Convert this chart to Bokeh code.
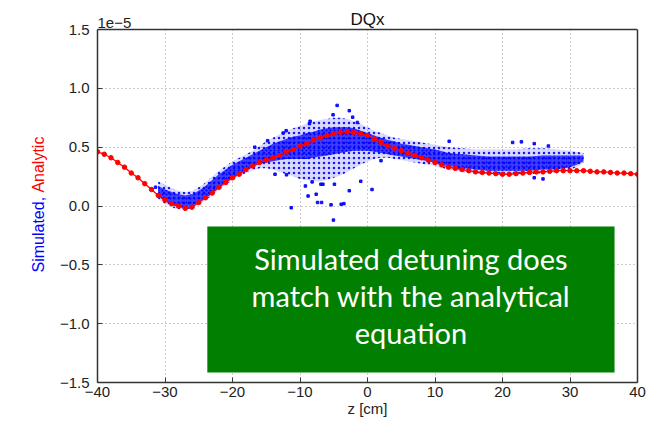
import math
from bokeh.plotting import figure
from bokeh.layouts import row
from bokeh.models import (Label, BoxAnnotation, Span, LinearAxis, CustomJSTickFormatter,
                          FixedTicker, Range1d)
from bokeh.embed import file_html
from bokeh.resources import INLINE

# ---------------- data (values in units of 1e-5) ----------------
ana_z = list(range(-40, 41))
ana_v = [0.46, 0.44, 0.41, 0.37, 0.33, 0.28, 0.24, 0.19, 0.14, 0.09,
         0.05, 0.02, 0.00, -0.02, -0.01, 0.03, 0.07, 0.11, 0.16, 0.20,
         0.24, 0.27, 0.31, 0.34, 0.37, 0.39, 0.41, 0.43, 0.46, 0.48,
         0.51, 0.53, 0.56, 0.58, 0.60, 0.615, 0.625, 0.63, 0.625, 0.615,
         0.60, 0.57, 0.54, 0.51, 0.49, 0.47, 0.45, 0.43, 0.41, 0.39,
         0.37, 0.35, 0.33, 0.32, 0.31, 0.30, 0.29, 0.285, 0.28, 0.275,
         0.27, 0.27, 0.275, 0.28, 0.285, 0.29, 0.29, 0.295, 0.30, 0.30,
         0.30, 0.30, 0.30, 0.295, 0.29, 0.29, 0.285, 0.28, 0.28, 0.275,
         0.27]

sim_z = [-31, -30, -29, -28, -27, -26, -25, -24, -23, -22, -21, -20, -19, -18,
         -17, -16, -15, -14, -13, -12, -11, -10, -9, -8, -7, -6, -5, -4, -3,
         -2, -1, 0, 1, 2, 3, 4, 5, 6, 8, 10, 12, 14, 16, 18, 20, 22, 24, 26,
         28, 30, 31, 32]
sim_core_lo = [0.08, 0.04, 0.01, -0.01, -0.01, 0.00, 0.03, 0.07, 0.11, 0.16, 0.20,
               0.24, 0.27, 0.30, 0.33, 0.36, 0.37, 0.38, 0.39, 0.40, 0.40, 0.40,
               0.40, 0.41, 0.42, 0.43, 0.44, 0.45, 0.46, 0.47, 0.47, 0.47, 0.46,
               0.45, 0.44, 0.43, 0.42, 0.41, 0.39, 0.37, 0.34, 0.32, 0.31, 0.30,
               0.30, 0.30, 0.30, 0.31, 0.31, 0.33, 0.35, 0.38]
sim_core_hi = [0.17, 0.14, 0.12, 0.10, 0.09, 0.10, 0.13, 0.17, 0.22, 0.27, 0.31,
               0.35, 0.38, 0.41, 0.44, 0.47, 0.50, 0.53, 0.55, 0.57, 0.59, 0.60,
               0.62, 0.63, 0.65, 0.66, 0.67, 0.67, 0.67, 0.66, 0.64, 0.62, 0.60,
               0.58, 0.56, 0.55, 0.53, 0.52, 0.50, 0.48, 0.45, 0.44, 0.43, 0.42,
               0.42, 0.42, 0.42, 0.43, 0.43, 0.43, 0.43, 0.43]
sim_env_lo = [0.06, 0.02, -0.01, -0.03, -0.03, -0.02, 0.01, 0.05, 0.09, 0.14, 0.18,
              0.22, 0.25, 0.28, 0.30, 0.32, 0.32, 0.31, 0.29, 0.27, 0.25, 0.23,
              0.22, 0.21, 0.21, 0.22, 0.24, 0.26, 0.29, 0.32, 0.35, 0.38, 0.40,
              0.41, 0.41, 0.40, 0.39, 0.38, 0.36, 0.34, 0.31, 0.29, 0.28, 0.27,
              0.27, 0.27, 0.27, 0.28, 0.29, 0.31, 0.33, 0.37]
sim_env_hi = [0.21, 0.18, 0.15, 0.13, 0.12, 0.13, 0.16, 0.20, 0.25, 0.30, 0.34,
              0.38, 0.41, 0.44, 0.47, 0.51, 0.55, 0.58, 0.61, 0.64, 0.66, 0.68,
              0.70, 0.72, 0.73, 0.74, 0.75, 0.75, 0.74, 0.72, 0.70, 0.67, 0.64,
              0.62, 0.60, 0.58, 0.57, 0.56, 0.54, 0.52, 0.50, 0.49, 0.48, 0.48,
              0.48, 0.48, 0.49, 0.49, 0.48, 0.47, 0.46, 0.45]

out_z = [-4.5, -2.7, -5.1, -2.2, -1.5, -8.6, -8.5, -12.5, -12.05, -14.8, -16.7,
         -3.5, -5.05, -11.3, -8.8, -7.6, -7.4, -6.8, -5.4, -3.9, -2.7, 0.67,
         -1.0, -6.9, -4.9, -12.0, -13.7, -9.2, -8.2, -6.6, 2.0,
         12.1, 21.5, 22.8, 24.7, 26.8, 24.7, 26.0, -31.4]
out_v = [0.855, 0.81, 0.775, 0.755, 0.71, 0.70, 0.72, 0.62, 0.64, 0.555, 0.50,
         0.02, -0.12, -0.015, 0.085, 0.10, 0.03, 0.03, 0.01, 0.015, 0.13, 0.14,
         0.21, 0.185, 0.185, 0.265, 0.27, 0.17, 0.205, 0.185, 0.385,
         0.55, 0.54, 0.545, 0.53, 0.51, 0.24, 0.23, 0.16]

x_ticks = [-40, -30, -20, -10, 0, 10, 20, 30, 40]
y_ticks = [-1.5, -1.0, -0.5, 0.0, 0.5, 1.0, 1.5]

title_text = "DQx"
x_label = "z [cm]"
exp_text = "1e\u22125"
ylab_sim = "Simulated,"
ylab_ana = "Analytic"
box_lines = ["Simulated detuning does", "match with the analytical", "equation"]

# ---------------- geometry ----------------
FONT = "Liberation Sans"
W, H = 654, 426
LEFT_W = 56                      # strip holding the two-coloured y label
X0, X1, Y0, Y1 = -40, 40, -1.5, 1.5
PX_PER_Y = (382 - 29) / (Y1 - Y0)
Y_TOP = Y1 + 29 / PX_PER_Y       # room above the axes box for title and exponent

y_range = Range1d(Y0, Y_TOP)

# ---------------- left strip: two-coloured y label ----------------
left = figure(width=LEFT_W, height=H, output_backend="svg", toolbar_location=None,
              x_range=Range1d(0, LEFT_W), y_range=y_range,
              min_border_left=0, min_border_right=0, min_border_top=0,
              min_border_bottom=44)
left.axis.visible = False
left.grid.visible = False
left.outline_line_color = None
left.border_fill_color = "white"
left.add_layout(Label(x=38, y=-0.565, text=ylab_sim, angle=math.pi / 2,
                      text_align="left", text_baseline="middle", text_font=FONT,
                      text_font_size="16px", text_color="#0000ff"))
left.add_layout(Label(x=38, y=0.59, text=ylab_ana, angle=math.pi / 2,
                      text_align="right", text_baseline="middle", text_font=FONT,
                      text_font_size="16px", text_color="#ff0000"))

# ---------------- main plot ----------------
p = figure(width=W - LEFT_W, height=H, output_backend="svg", toolbar_location=None,
           x_range=Range1d(X0, X1), y_range=y_range,
           min_border_left=96 - LEFT_W, min_border_right=17, min_border_top=0,
           min_border_bottom=44)
p.background_fill_color = "white"
p.border_fill_color = "white"
p.outline_line_color = None

AX_COL = "#333333"
# right edge of the axes box: an axis with no ticks, limited to the box height
right_axis = LinearAxis(ticker=FixedTicker(ticks=[]), bounds=(Y0, Y1))
p.add_layout(right_axis, "right")

for ax in (p.xaxis[0], p.yaxis[0], right_axis):
    ax.axis_line_color = AX_COL
    ax.axis_line_width = 1.5
    ax.major_tick_in = 5
    ax.major_tick_out = 0
    ax.minor_tick_line_color = None
    ax.major_tick_line_color = AX_COL
    ax.major_label_text_font = FONT
    ax.major_label_text_font_size = "15px"
    ax.major_label_text_color = "#222222"

p.yaxis[0].bounds = (Y0, Y1)
p.xaxis.ticker = FixedTicker(ticks=x_ticks)
p.yaxis[0].ticker = FixedTicker(ticks=y_ticks)
p.xaxis.formatter = CustomJSTickFormatter(code="return tick.toFixed(0).replace('-', '\\u2212');")
p.yaxis[0].formatter = CustomJSTickFormatter(code="return tick.toFixed(1).replace('-', '\\u2212');")
p.xaxis.major_label_standoff = 4
p.yaxis[0].major_label_standoff = 8
p.xaxis.axis_label = x_label
p.xaxis.axis_label_standoff = 0
p.xaxis.axis_label_text_font = FONT
p.xaxis.axis_label_text_font_size = "15px"
p.xaxis.axis_label_text_font_style = "normal"
p.xaxis.axis_label_text_color = "#222222"

p.xgrid.ticker = FixedTicker(ticks=x_ticks)
p.ygrid.ticker = FixedTicker(ticks=y_ticks)
for g in (p.xgrid[0], p.ygrid[0]):
    g.grid_line_color = "#999999"
    g.grid_line_dash = "1 3"
    g.grid_line_width = 1

# simulated cloud: sparse envelope + dense core + isolated points
p.varea(x=sim_z, y1=sim_env_lo, y2=sim_env_hi, fill_color="#0000ff", fill_alpha=0.15,
        hatch_pattern="dot", hatch_color="#0000ff", hatch_alpha=0.9, hatch_scale=5,
        hatch_weight=1.3)
p.varea(x=sim_z, y1=sim_core_lo, y2=sim_core_hi, fill_color="#0000ff", fill_alpha=0.72,
        hatch_pattern="dot", hatch_color="#0000ff", hatch_alpha=1.0, hatch_scale=4,
        hatch_weight=1.6)
p.scatter(out_z, out_v, marker="square", size=2.5, color="#0000ff", alpha=0.9)

# analytic curve
p.line(ana_z, ana_v, line_color="#ff0000", line_width=1.3)
p.scatter(ana_z, ana_v, marker="circle", size=4.5, color="#ff0000")

# blank band above the axes box (title area) and the top edge of the box
p.add_layout(BoxAnnotation(bottom=Y1, fill_color="white", fill_alpha=1.0,
                           line_color=None, level="glyph"))
p.add_layout(Span(location=Y1, dimension="width", line_color=AX_COL, line_width=1.5))

p.add_layout(Label(x=X0, y=Y1 + 7 / PX_PER_Y, text=exp_text, text_align="left",
                   text_baseline="alphabetic", text_font=FONT, text_font_size="15px",
                   text_color="#222222"))
p.add_layout(Label(x=0, y=Y1 + 10 / PX_PER_Y, text=title_text, text_align="center",
                   text_baseline="alphabetic", text_font=FONT, text_font_size="17px",
                   text_color="#111111"))

# green message box
BOX_L, BOX_R, BOX_T, BOX_B = -23.73, 36.6, -0.174, -1.415
p.add_layout(BoxAnnotation(left=BOX_L, right=BOX_R, top=BOX_T, bottom=BOX_B,
                           fill_color="#007f00", fill_alpha=1.0, line_color=None,
                           level="overlay"))
for txt, yy in zip(box_lines, [-0.446, -0.761, -1.075]):
    p.add_layout(Label(x=(BOX_L + BOX_R) / 2, y=yy, text=txt, text_align="center",
                       text_baseline="middle", text_font="Lato", text_font_size="29px",
                       text_color="white", level="overlay"))

layout = row(left, p, spacing=0)
open("out.html", "w").write(file_html(layout, INLINE))
